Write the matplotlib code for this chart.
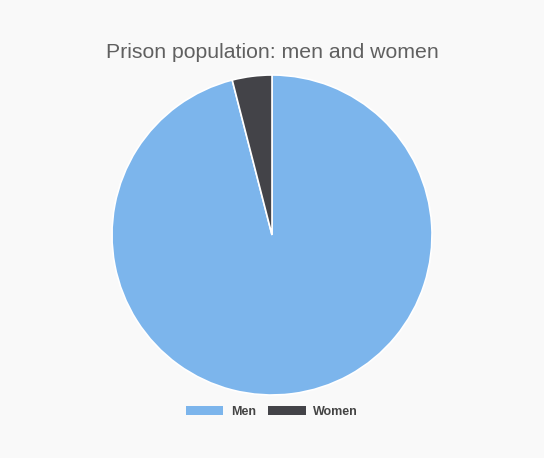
import matplotlib.pyplot as plt
from matplotlib.patches import Patch

labels = ["Men", "Women"]
shares = [96.0, 4.0]
colors = ["#7cb5ec", "#434348"]

fig = plt.figure(figsize=(5.44, 4.58), dpi=100)
fig.patch.set_facecolor("#f9f9f9")

ax = fig.add_axes([112 / 544, 63 / 458, 320 / 544, 320 / 458])
ax.set_facecolor("#f9f9f9")
ax.pie(
    shares,
    colors=colors,
    startangle=90,
    counterclock=False,
    radius=1.0,
    wedgeprops={"edgecolor": "white", "linewidth": 1.2},
)
ax.set_xlim(-1.0, 1.0)
ax.set_ylim(-1.0, 1.0)
ax.set_aspect("equal")

fig.text(0.5, 1 - 52 / 458, "Prison population: men and women",
         ha="center", va="center", fontsize=15.3, color="#606060",
         family="Liberation Sans")

handles = [Patch(facecolor=c, edgecolor="none") for c in colors]
fig.legend(
    handles, labels,
    loc="center", bbox_to_anchor=(0.5, 1 - 412 / 458),
    ncol=2, frameon=False, handlelength=3.0, handleheight=0.7,
    columnspacing=1.0, handletextpad=0.6,
    prop={"family": "Liberation Sans", "weight": "bold", "size": 9},
    labelcolor="#444444",
)

fig.savefig("out.png", dpi=100, facecolor=fig.get_facecolor())
